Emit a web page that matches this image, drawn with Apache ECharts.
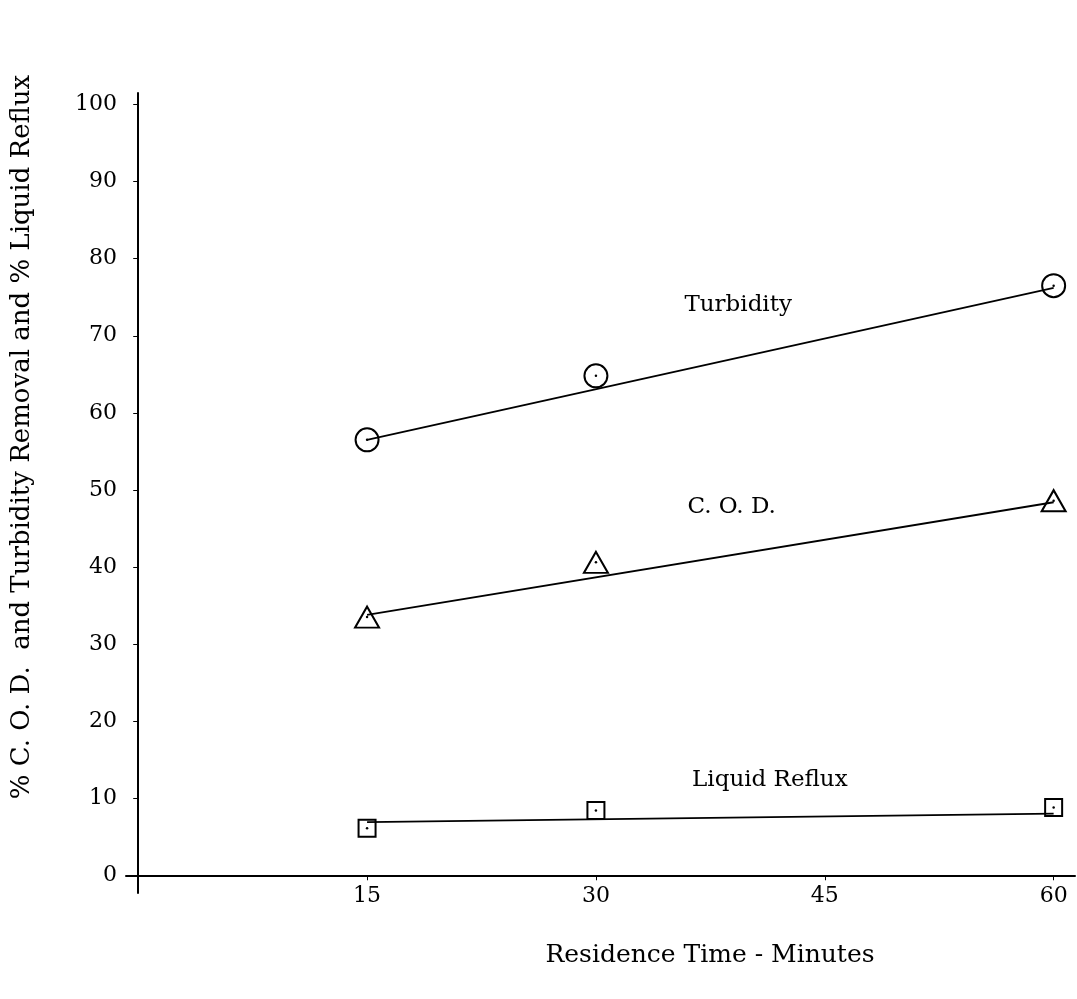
<!DOCTYPE html>
<html>
<head>
<meta charset="utf-8">
<script src="https://cdn.jsdelivr.net/npm/echarts@6/dist/echarts.min.js"></script>
<style>
html,body{margin:0;padding:0;background:#fff;}
#chart{width:1077px;height:999px;}
</style>
</head>
<body>
<div id="chart"></div>
<script>
// ---- data ----
const xValues = [15, 30, 60];
const turbidity = [56.5, 64.8, 76.5];
const cod = [33.5, 40.6, 48.6];
const reflux = [6.1, 8.4, 8.8];
const fitX = [15, 60];
const turbidityFit = [56.5, 76.2];
const codFit = [33.8, 48.4];
const refluxFit = [6.9, 8.0];
const xTicks = [15, 30, 45, 60];
const yTicks = [0, 10, 20, 30, 40, 50, 60, 70, 80, 90, 100];
const annotations = [
  { name: 'Turbidity', x: 35.8, y: 74.0 },
  { name: 'C. O. D.', x: 36.0, y: 47.8 },
  { name: 'Liquid Reflux', x: 36.3, y: 12.3 }
];
const xTitle = 'Residence Time - Minutes';
const yTitle = '% C. O. D.  and Turbidity Removal and % Liquid Reflux';

const FONT = 'DejaVu Serif';
const pairs = (xs, ys) => xs.map((x, i) => [x, ys[i]]);

const chart = echarts.init(document.getElementById('chart'), null, { renderer: 'canvas' });

const markerSeries = (data, symbol, size) => ({
  type: 'scatter', data: data, symbol: symbol, symbolSize: size,
  itemStyle: { color: 'rgba(0,0,0,0)', borderColor: '#000', borderWidth: 2, opacity: 1 },
  z: 4, silent: true
});
const dotSeries = (data) => ({
  type: 'scatter', data: data, symbol: 'circle', symbolSize: 2.5,
  itemStyle: { color: '#000', opacity: 1 }, z: 5, silent: true
});
const fitSeries = (data) => ({
  type: 'line', data: data, showSymbol: false, symbol: 'none',
  lineStyle: { color: '#000', width: 1.8 }, z: 3, silent: true
});

chart.setOption({
  animation: false,
  backgroundColor: '#fff',
  grid: { left: 126, top: 93, width: 949, height: 800, containLabel: false },
  xAxis: {
    type: 'value', min: -0.8, max: 61.4,
    axisLine: { show: true, onZero: true, lineStyle: { color: '#000', width: 2 } },
    axisTick: { show: true, length: 5, inside: false, customValues: xTicks, lineStyle: { color: '#000', width: 1 } },
    axisLabel: { show: true, customValues: xTicks, margin: -8, color: '#000', fontFamily: FONT, fontSize: 22 },
    splitLine: { show: false }
  },
  yAxis: {
    type: 'value', min: -2.3, max: 101.5,
    axisLine: { show: true, onZero: true, lineStyle: { color: '#000', width: 2 } },
    axisTick: { show: true, length: 5, inside: false, customValues: yTicks, lineStyle: { color: '#000', width: 1 } },
    axisLabel: { show: true, customValues: yTicks, margin: 9, color: '#000', fontFamily: FONT, fontSize: 22 },
    splitLine: { show: false }
  },
  series: [
    fitSeries(pairs(fitX, turbidityFit)),
    fitSeries(pairs(fitX, codFit)),
    fitSeries(pairs(fitX, refluxFit)),
    markerSeries(pairs(xValues, turbidity), 'circle', 23),
    markerSeries(pairs(xValues, cod), 'triangle', [24, 21]),
    markerSeries(pairs(xValues, reflux), 'rect', 17),
    dotSeries(pairs(xValues, turbidity)),
    dotSeries(pairs(xValues, cod)),
    dotSeries(pairs(xValues, reflux)),
    {
      type: 'scatter', symbolSize: 0, silent: true,
      itemStyle: { opacity: 1 },
      data: annotations.map(a => ({ name: a.name, value: [a.x, a.y] })),
      label: {
        show: true, position: 'right', distance: 0, opacity: 1,
        formatter: p => p.name, color: '#000', fontFamily: FONT, fontSize: 23
      }
    }
  ],
  graphic: [
    {
      type: 'text', x: 710, y: 955,
      style: { text: xTitle, fill: '#000', font: '25px "DejaVu Serif"', align: 'center', verticalAlign: 'middle' }
    },
    {
      type: 'text', x: 22, y: 437, rotation: Math.PI / 2,
      style: { text: yTitle, fill: '#000', font: '26px "DejaVu Serif"', align: 'center', verticalAlign: 'middle' }
    }
  ]
});
</script>
</body>
</html>
